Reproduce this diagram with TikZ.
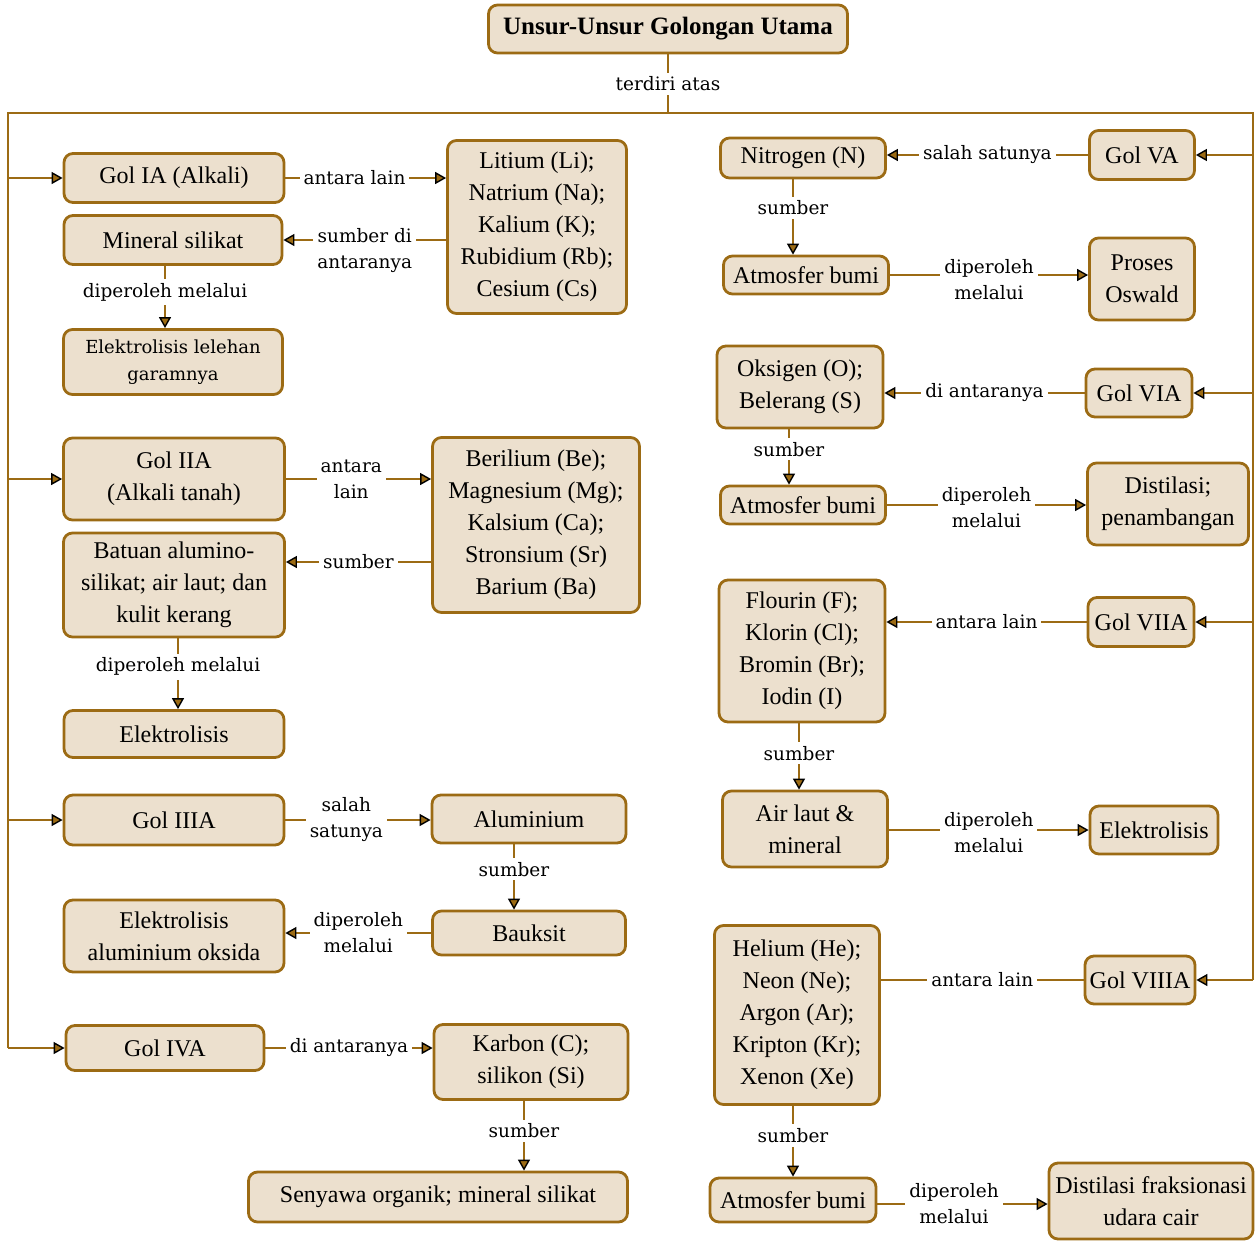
\documentclass[tikz,border=0pt]{standalone}
\usepackage{fontspec}
\setmainfont{Liberation Serif}
\newfontfamily\lblfont{DejaVu Serif}
\usepackage{tikz}
\usetikzlibrary{arrows.meta}
\definecolor{golden}{HTML}{9C6B14}
\definecolor{cream}{HTML}{ECE0CE}

\begin{document}
\begin{tikzpicture}[x=1pt, y=-1pt]
    \tikzstyle{box} = [rectangle, rounded corners=9pt, draw=golden, line width=2.8pt, fill=cream, align=center, inner sep=2pt, font=\fontsize{24}{32}\selectfont]
    \tikzstyle{smallbox} = [box, font=\lblfont\fontsize{18}{27}\selectfont]
    \tikzstyle{lbl} = [fill=white, align=center, inner sep=4pt, font=\lblfont\fontsize{18.5}{26}\selectfont]
    \tikzstyle{line} = [draw=golden, line width=2.7pt]
    \tikzstyle{arrow} = [line, -{Triangle[length=11pt, width=12pt, line width=1.4pt, color=black, fill=golden]}]

    \useasboundingbox (0,0) rectangle (1260,1240);

    % judul dan batang utama
    \node [box, minimum width=359, minimum height=48, font=\bfseries\fontsize{25}{30}\selectfont] (title) at (668,29) {Unsur-Unsur Golongan Utama};
    \coordinate (tl) at (8,113);
    \coordinate (tr) at (1253,113);

    % kolom kiri
    \node [box, minimum width=220, minimum height=49] (golIA) at (174,178) {Gol IA (Alkali)};
    \node [box, minimum width=179, minimum height=173] (li) at (537,227) {Litium (Li);\\Natrium (Na);\\Kalium (K);\\Rubidium (Rb);\\Cesium (Cs)};
    \node [box, minimum width=218, minimum height=49] (mineral) at (173,240) {Mineral silikat};
    \node [smallbox, minimum width=219, minimum height=65] (elekA) at (173,362) {Elektrolisis lelehan\\garamnya};

    \node [box, minimum width=221, minimum height=82] (golIIA) at (174,479) {Gol IIA\\(Alkali tanah)};
    \node [box, minimum width=207, minimum height=175] (be) at (536,525) {Berilium (Be);\\Magnesium (Mg);\\Kalsium (Ca);\\Stronsium (Sr)\\Barium (Ba)};
    \node [box, minimum width=221, minimum height=104] (batuan) at (174,585) {Batuan alumino-\\silikat; air laut; dan\\kulit kerang};
    \node [box, minimum width=220, minimum height=47] (elekB) at (174,734) {Elektrolisis};

    \node [box, minimum width=220, minimum height=50] (golIIIA) at (174,820) {Gol IIIA};
    \node [box, minimum width=194, minimum height=48] (alu) at (529,819) {Aluminium};
    \node [box, minimum width=193, minimum height=44] (bauksit) at (529,933) {Bauksit};
    \node [box, minimum width=220, minimum height=72] (elekC) at (174,936) {Elektrolisis\\aluminium oksida};

    \node [box, minimum width=198, minimum height=45] (golIVA) at (165,1048) {Gol IVA};
    \node [box, minimum width=194, minimum height=75] (karbon) at (531,1062) {Karbon (C);\\silikon (Si)};
    \node [box, minimum width=379, minimum height=50] (senyawa) at (438,1197) {Senyawa organik; mineral silikat};

    % kolom kanan
    \node [box, minimum width=105, minimum height=49] (golVA) at (1142,155) {Gol VA};
    \node [box, minimum width=165, minimum height=40] (nitro) at (803,158) {Nitrogen (N)};
    \node [box, minimum width=165, minimum height=38] (atmA) at (806,275) {Atmosfer bumi};
    \node [box, minimum width=105, minimum height=82] (oswald) at (1142,279) {Proses\\Oswald};

    \node [box, minimum width=106, minimum height=48] (golVIA) at (1139,393) {Gol VIA};
    \node [box, minimum width=166, minimum height=82] (oksigen) at (800,387) {Oksigen (O);\\Belerang (S)};
    \node [box, minimum width=165, minimum height=38] (atmB) at (803,505) {Atmosfer bumi};
    \node [box, minimum width=161, minimum height=82] (distil) at (1168,504) {Distilasi;\\penambangan};

    \node [box, minimum width=106, minimum height=49] (golVIIA) at (1141,622) {Gol VIIA};
    \node [box, minimum width=166, minimum height=142] (flour) at (802,651) {Flourin (F);\\Klorin (Cl);\\Bromin (Br);\\Iodin (I)};
    \node [box, minimum width=165, minimum height=76] (airlaut) at (805,829) {Air laut \&\\mineral};
    \node [box, minimum width=128, minimum height=48] (elekD) at (1154,830) {Elektrolisis};

    \node [box, minimum width=110, minimum height=48] (golVIIIA) at (1140,980) {Gol VIIIA};
    \node [box, minimum width=165, minimum height=179] (helium) at (797,1015) {Helium (He);\\Neon (Ne);\\Argon (Ar);\\Kripton (Kr);\\Xenon (Xe)};
    \node [box, minimum width=166, minimum height=44] (atmC) at (793,1200) {Atmosfer bumi};
    \node [box, minimum width=204, minimum height=76] (fraks) at (1151,1201) {Distilasi fraksionasi\\udara cair};

    % batang
    \draw [line] (title.south) -- (title.south |- tl) node [lbl, midway] {terdiri atas};
    \draw [line] (tl |- golIVA) -- (tl) -- (tr) -- (tr |- golVIIIA);
    \draw [arrow] (tl |- golIA) -- (golIA.west);
    \draw [arrow] (tl |- golIIA) -- (golIIA.west);
    \draw [arrow] (tl |- golIIIA) -- (golIIIA.west);
    \draw [arrow] (tl |- golIVA) -- (golIVA.west);
    \draw [arrow] (tr |- golVA) -- (golVA.east);
    \draw [arrow] (tr |- golVIA) -- (golVIA.east);
    \draw [arrow] (tr |- golVIIA) -- (golVIIA.east);
    \draw [arrow] (tr |- golVIIIA) -- (golVIIIA.east);

    % golongan IA - IVA
    \draw [arrow] (golIA.east) -- (golIA.east -| li.west) node [lbl, pos=0.43] {antara lain};
    \draw [arrow] (mineral.east -| li.west) -- (mineral.east) node [lbl, midway, yshift=-11pt] {sumber di\\antaranya};
    \draw [arrow] ([xshift=-8pt]mineral.south) -- ([xshift=-8pt]mineral.south |- elekA.north) node [lbl, pos=0.42] {diperoleh melalui};
    \draw [arrow] (golIIA.east) -- (golIIA.east -| be.west) node [lbl, pos=0.45] {antara\\lain};
    \draw [arrow] (be.west |- 0,562) -- (batuan.east |- 0,562) node [lbl, midway] {sumber};
    \draw [arrow] ([xshift=4pt]batuan.south) -- ([xshift=4pt]batuan.south |- elekB.north) node [lbl, pos=0.4] {diperoleh melalui};
    \draw [arrow] (golIIIA.east) -- (golIIIA.east -| alu.west) node [lbl, pos=0.42] {salah\\satunya};
    \draw [arrow] ([xshift=-15pt]alu.south) -- ([xshift=-15pt]alu.south |- bauksit.north) node [lbl, pos=0.38] {sumber};
    \draw [arrow] (bauksit.west) -- (bauksit.west -| elekC.east) node [lbl, midway] {diperoleh\\melalui};
    \draw [arrow] (golIVA.east) -- (golIVA.east -| karbon.west) node [lbl, midway] {di antaranya};
    \draw [arrow] ([xshift=-7pt]karbon.south) -- ([xshift=-7pt]karbon.south |- senyawa.north) node [lbl, pos=0.43] {sumber};

    % golongan VA - VIIIA
    \draw [arrow] (golVA.west) -- (golVA.west -| nitro.east) node [lbl, midway] {salah satunya};
    \draw [arrow] ([xshift=-10pt]nitro.south) -- ([xshift=-10pt]nitro.south |- atmA.north) node [lbl, pos=0.38] {sumber};
    \draw [arrow] (atmA.east) -- (atmA.east -| oswald.west) node [lbl, midway, yshift=-5pt] {diperoleh\\melalui};
    \draw [arrow] (golVIA.west) -- (golVIA.west -| oksigen.east) node [lbl, midway] {di antaranya};
    \draw [arrow] ([xshift=-11pt]oksigen.south) -- ([xshift=-11pt]oksigen.south |- atmB.north) node [lbl, pos=0.36] {sumber};
    \draw [arrow] (atmB.east) -- (atmB.east -| distil.west) node [lbl, midway, yshift=-3pt] {diperoleh\\melalui};
    \draw [arrow] (golVIIA.west) -- (golVIIA.west -| flour.east) node [lbl, midway] {antara lain};
    \draw [arrow] ([xshift=-3pt]flour.south) -- ([xshift=-3pt]flour.south |- airlaut.north) node [lbl, pos=0.45] {sumber};
    \draw [arrow] (airlaut.east |- elekD) -- (elekD.west) node [lbl, midway, yshift=-3pt] {diperoleh\\melalui};
    \draw [line] (helium.east |- golVIIIA) -- (golVIIIA.west) node [lbl, midway] {antara lain};
    \draw [arrow] ([xshift=-4pt]helium.south) -- ([xshift=-4pt]helium.south |- atmC.north) node [lbl, pos=0.42] {sumber};
    \draw [arrow] (atmC.east |- 0,1204) -- (fraks.west |- 0,1204) node [lbl, pos=0.45] {diperoleh\\melalui};
\end{tikzpicture}
\end{document}
